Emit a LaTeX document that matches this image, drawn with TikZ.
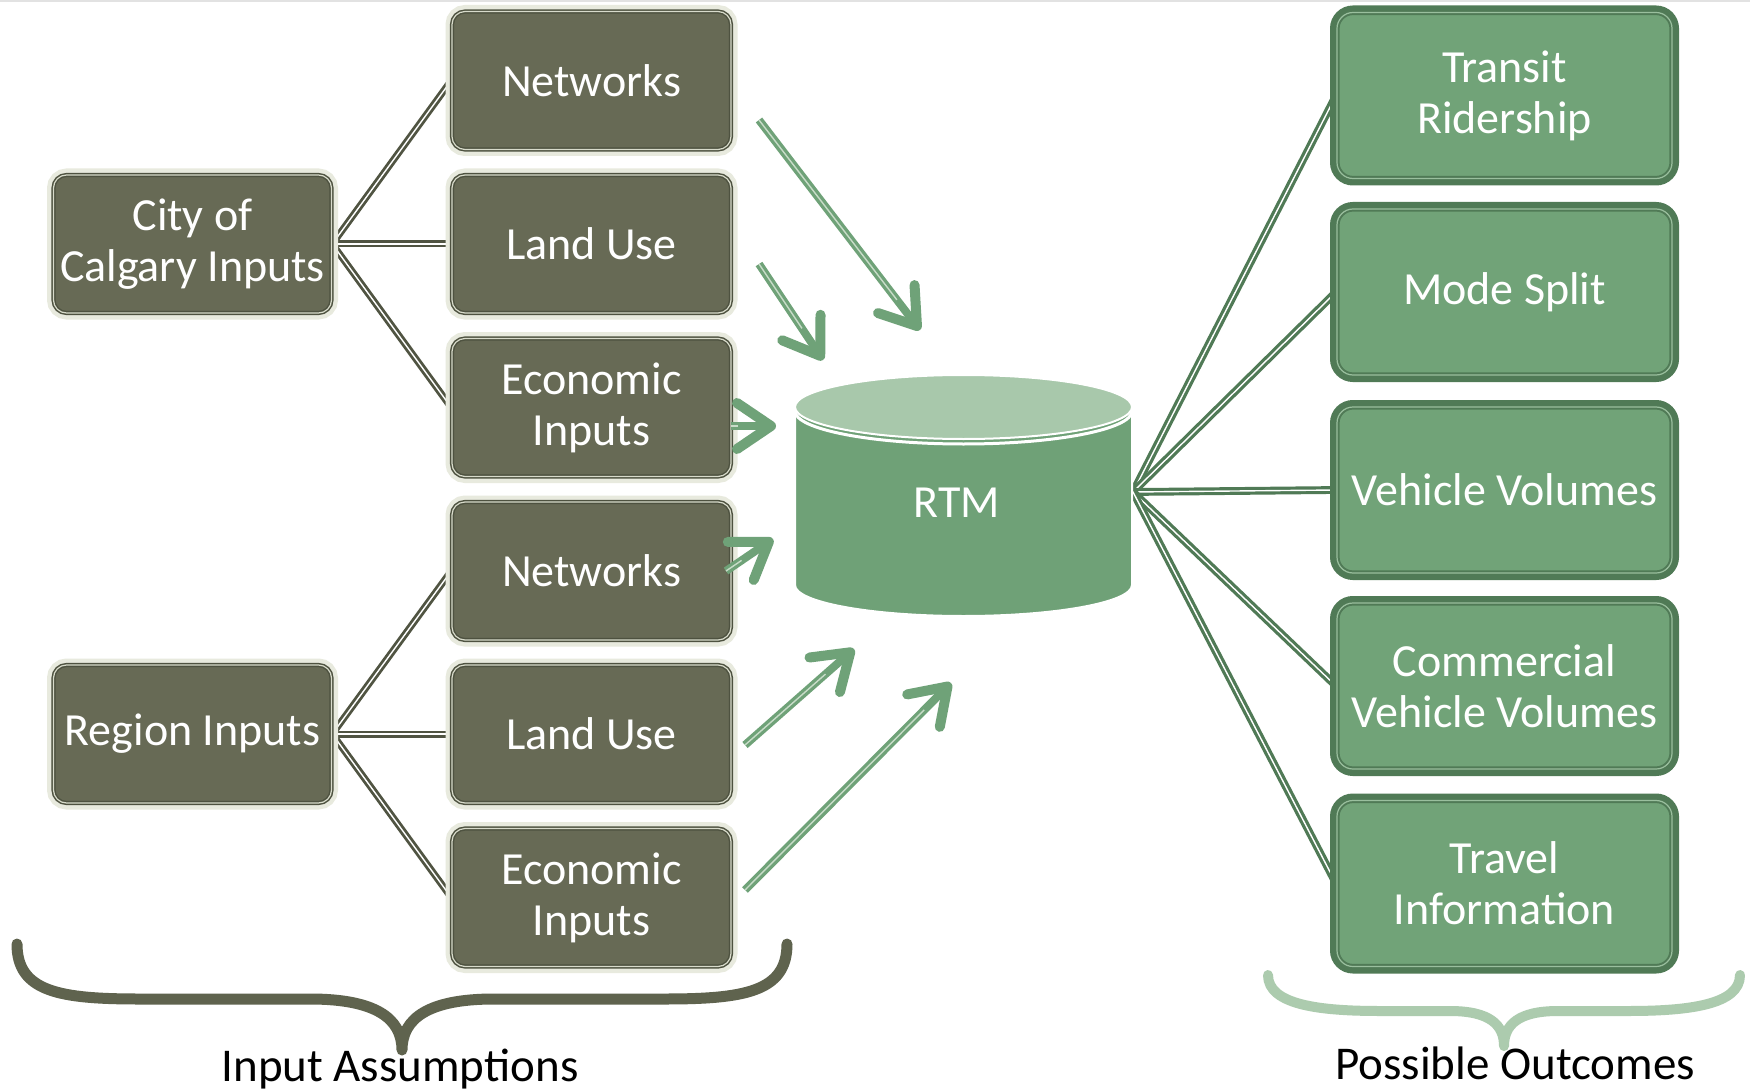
\documentclass[tikz,border=0pt]{standalone}
\usepackage{fontspec}
\setmainfont{Carlito}
\usetikzlibrary{arrows.meta}
\definecolor{olv}{RGB}{103,106,85}
\definecolor{olvdk}{RGB}{78,82,64}
\definecolor{olvlt}{RGB}{216,219,203}
\definecolor{olvln}{RGB}{80,84,66}
\definecolor{halo}{RGB}{232,234,222}
\definecolor{grn}{RGB}{113,163,120}
\definecolor{grndk}{RGB}{80,122,86}
\definecolor{grnlt}{RGB}{154,191,158}
\definecolor{agrn}{RGB}{111,162,120}
\definecolor{agrnlt}{RGB}{200,220,200}
\definecolor{cylbody}{RGB}{111,161,119}
\definecolor{cyltop}{RGB}{168,200,171}
\definecolor{brol}{RGB}{95,99,78}
\definecolor{brgr}{RGB}{172,203,174}
\definecolor{topln}{RGB}{226,226,226}
\newcommand{\bxfont}{\fontsize{46pt}{51pt}\selectfont}
\newcommand{\lblfont}{\fontsize{47pt}{52pt}\selectfont}
\pgfdeclarelayer{back}
\pgfdeclarelayer{bg}
\pgfsetlayers{back,bg,main}
\begin{document}
\begin{tikzpicture}[x=1pt,y=-1pt,
  inbox/.style={rectangle, rounded corners=13pt, minimum width=279pt, minimum height=138pt, inner sep=0pt, fill=olv, draw=olvdk, line width=1.5pt, double=olvlt, double distance=1.2pt, preaction={draw=halo, line width=13pt}, text=white, font=\bxfont, align=center},
  outbox/.style={rectangle, rounded corners=16pt, minimum width=335pt, minimum height=166pt, inner sep=0pt, fill=grn, draw=grndk, line width=2pt, double=grnlt, double distance=1.2pt, preaction={draw=grndk, line width=14pt}, text=white, font=\bxfont, align=center},
  olline/.style={draw=olvln, line width=2.8pt, double=white, double distance=1.4pt},
  grline/.style={draw=grndk, line width=3.2pt, double=white, double distance=1.4pt},
  garrow/.style={draw=agrn, line width=8pt, -{Straight Barb[length=34pt,width=46pt,line width=10pt,round]}},
  gshaft/.style={draw=agrnlt, line width=1.4pt, shorten >=38pt},
  bracepath/.style={line width=11pt, line cap=round, line join=round},
]
\useasboundingbox (0,0) rectangle (1750,1091);
\begin{pgfonlayer}{back}
\fill[white] (0,0) rectangle (1750,1091);
\draw[topln, line width=2pt] (0,1) -- (1750,1);
\end{pgfonlayer}

% cylinder
\fill[cylbody] (795,407) -- (795,585) arc[start angle=180,end angle=360,x radius=168.5pt,y radius=31pt] -- (1132,407) -- cycle;
\draw[white, line width=2pt] (795,407) -- (795,585) arc[start angle=180,end angle=360,x radius=168.5pt,y radius=31pt] -- (1132,407);
\draw[white, line width=3pt] (795,411) arc[start angle=180,end angle=360,x radius=168.5pt,y radius=33pt];
\filldraw[fill=cyltop, draw=white, line width=2pt] (963.5,407) ellipse[x radius=168.5pt, y radius=32pt];
\node[text=white, font=\bxfont] (rtm) at (957,503) {RTM};
\coordinate (rtmjoin) at (1133,492);

% input boxes
\node[inbox] (net1) at (591.5,80.5) {Networks};
\node[inbox] (lu1) at (591.5,244) {Land Use};
\node[inbox] (ec1) at (591.5,407.5) {Economic\\Inputs};
\node[inbox] (net2) at (591.5,571) {Networks};
\node[inbox] (lu2) at (591.5,734) {Land Use};
\node[inbox] (ec2) at (591.5,897.5) {Economic\\Inputs};
\node[inbox, minimum width=278pt] (city) at (192.5,244) {City of\\Calgary Inputs};
\node[inbox, minimum width=278pt] (reg) at (192.5,734) {Region Inputs};

% outcome boxes
\node[outbox] (tr) at (1504.5,95.5) {Transit\\Ridership};
\node[outbox] (ms) at (1504.5,292) {Mode Split};
\node[outbox] (vv) at (1504.5,490) {Vehicle Volumes};
\node[outbox] (cv) at (1504.5,686) {Commercial\\Vehicle Volumes};
\node[outbox] (ti) at (1504.5,883.5) {Travel\\Information};

% connectors
\begin{pgfonlayer}{bg}
\draw[olline] (city.east) -- (net1.west);
\draw[olline] (city.east) -- (lu1.west);
\draw[olline] (city.east) -- (ec1.west);
\draw[olline] (reg.east) -- (net2.west);
\draw[olline] (reg.east) -- (lu2.west);
\draw[olline] (reg.east) -- (ec2.west);
\draw[grline] (rtmjoin) -- (tr.west);
\draw[grline] (rtmjoin) -- (ms.west);
\draw[grline] (rtmjoin) -- (vv.west);
\draw[grline] (rtmjoin) -- (cv.west);
\draw[grline] (rtmjoin) -- (ti.west);
\end{pgfonlayer}

% arrows
\coordinate (a1s) at (759,120); \coordinate (a1e) at (920,330);
\coordinate (a2s) at (759,264); \coordinate (a2e) at (823,360);
\coordinate (a3s) at (731,426); \coordinate (a3e) at (776,426);
\coordinate (a4s) at (726,571); \coordinate (a4e) at (773,539);
\coordinate (a5s) at (745,745); \coordinate (a5e) at (854,649);
\coordinate (a6s) at (745,890); \coordinate (a6e) at (951,683);
\foreach \i in {1,...,6}{
  \draw[garrow] (a\i s) -- (a\i e);
  \draw[gshaft] (a\i s) -- (a\i e);
}

% braces
\draw[bracepath, draw=brol] (17,944) .. controls (17,992) and (60,999) .. (140,999) -- (310,999) .. controls (375,999) and (402,1018) .. (402,1050) .. controls (402,1018) and (429,999) .. (494,999) -- (664,999) .. controls (744,999) and (787,992) .. (787,944);
\draw[bracepath, line width=10pt, draw=brgr] (1268,975) .. controls (1268,1005) and (1320,1011) .. (1380,1011) -- (1450,1011) .. controls (1490,1011) and (1504,1025) .. (1504,1046) .. controls (1504,1025) and (1518,1011) .. (1558,1011) -- (1628,1011) .. controls (1688,1011) and (1740,1005) .. (1740,975);

\node[anchor=base, font=\lblfont, text=black] (inlab) at (400,1081) {Input Assumptions};
\node[anchor=base, font=\lblfont, text=black] (outlab) at (1515,1079) {Possible Outcomes};
\end{tikzpicture}
\end{document}
